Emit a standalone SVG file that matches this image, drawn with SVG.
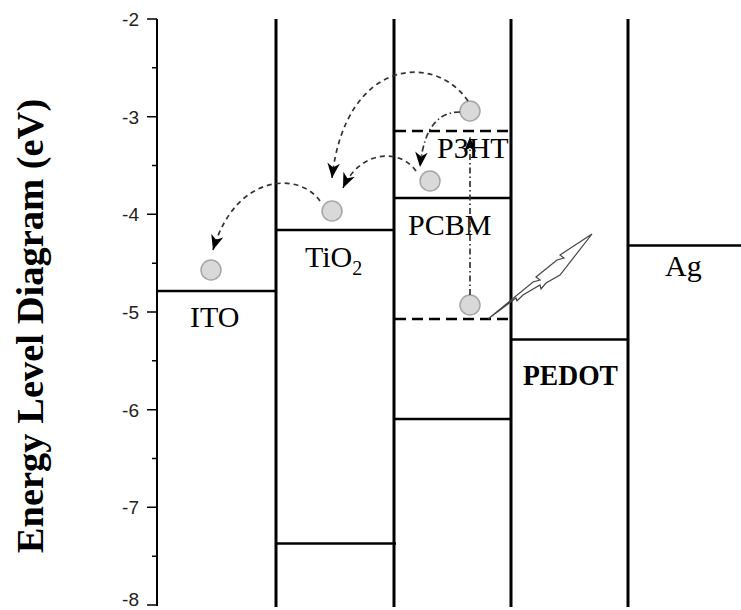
<svg xmlns="http://www.w3.org/2000/svg" width="741" height="610" viewBox="0 0 741 610">
<defs>
<style>
.wall{stroke:#000;stroke-width:3;fill:none}
.lvl{stroke:#000;stroke-width:2.5;fill:none}
.dlvl{stroke:#000;stroke-width:2.5;fill:none;stroke-dasharray:11 6}
.ax{stroke:#000;stroke-width:2;fill:none}
.tk{stroke:#000;stroke-width:1.5;fill:none}
.tl{font-family:"Liberation Sans",Arial,sans-serif;font-size:19px;fill:#222;text-anchor:end}
.lb{font-family:"Liberation Serif","Times New Roman",serif;font-size:30px;fill:#000}
.dash{stroke:#333;stroke-width:1.7;fill:none;stroke-dasharray:5 4}
.dd{stroke:#333;stroke-width:1.7;fill:none;stroke-dasharray:6 3 1.5 3}
.e{fill:#d9d9d9;stroke:#a6a6a6;stroke-width:1.5}
</style>
<marker id="ah" viewBox="0 0 12 10" refX="12" refY="5" markerWidth="15" markerHeight="12.5" markerUnits="userSpaceOnUse" orient="auto">
<path d="M0,0 L12,5 L0,10 L3.5,5 Z" fill="#000"/>
</marker>
</defs>
<rect width="741" height="610" fill="#fff"/>
<g id="axis">
<line class="ax" x1="157" y1="19" x2="157" y2="606"/>
<path class="tk" d="M147,19H157M147,116.7H157M147,214.3H157M147,312H157M147,409.7H157M147,507.3H157M147,605H157M152,67.8H157M152,165.5H157M152,263.2H157M152,360.8H157M152,458.5H157M152,556.2H157"/>
<text class="tl" x="139" y="26">-2</text>
<text class="tl" x="139" y="123.7">-3</text>
<text class="tl" x="139" y="221.3">-4</text>
<text class="tl" x="139" y="319">-5</text>
<text class="tl" x="139" y="416.7">-6</text>
<text class="tl" x="139" y="514.3">-7</text>
<text class="tl" x="139" y="606">-8</text>
<text transform="translate(43,326) rotate(-90)" text-anchor="middle" font-family="'Liberation Serif','Times New Roman',serif" font-size="38.5" font-weight="bold" fill="#000">Energy Level Diagram (eV)</text>
</g>
<g id="walls">
<line class="wall" x1="276" y1="19" x2="276" y2="607"/>
<line class="wall" x1="394" y1="19" x2="394" y2="607"/>
<line class="wall" x1="511" y1="19" x2="511" y2="607"/>
<line class="wall" x1="628" y1="19" x2="628" y2="607"/>
</g>
<g id="ITO">
<line class="lvl" x1="157" y1="291" x2="276" y2="291"/>
<text class="lb" x="190" y="327">ITO</text>
<circle class="e" cx="211" cy="270" r="10"/>
</g>
<g id="TiO2">
<line class="lvl" x1="276" y1="230" x2="394" y2="230"/>
<line class="lvl" x1="276" y1="543.5" x2="396" y2="543.5"/>
<text class="lb" x="305" y="267">TiO<tspan font-size="20" dy="8">2</tspan></text>
<circle class="e" cx="332" cy="211" r="10"/>
</g>
<g id="PCBM">
<line class="lvl" x1="394" y1="198" x2="511" y2="198"/>
<line class="lvl" x1="394" y1="419" x2="511" y2="419"/>
<text class="lb" x="408" y="235">PCBM</text>
<circle class="e" cx="430" cy="181" r="10"/>
</g>
<g id="P3HT">
<line class="dlvl" x1="395" y1="131" x2="511" y2="131"/>
<line class="dlvl" x1="395" y1="319" x2="509" y2="319"/>
<text class="lb" x="437" y="158">P3HT</text>
<circle class="e" cx="470" cy="111" r="10"/>
<circle class="e" cx="470" cy="305" r="10"/>
</g>
<g id="PEDOT">
<line class="lvl" x1="511" y1="339.5" x2="628" y2="339.5"/>
<text class="lb" x="523" y="385" font-weight="bold" font-size="28" textLength="95" lengthAdjust="spacingAndGlyphs">PEDOT</text>
</g>
<g id="Ag">
<line class="lvl" x1="628" y1="245.5" x2="741" y2="245.5"/>
<text class="lb" x="665" y="276">Ag</text>
</g>
<g id="light">
<path d="M488,319 L533,282 L540,280 L536,277 L557,260 L564,258 L560,255 L592,234 L560,275 L546,283 L541,289 L540,285 L523,295 L517,301 L516,298 Z" fill="none" stroke="#444" stroke-width="1.2" stroke-linejoin="miter"/>
</g>
<g id="connectors">
<path class="dash" d="M468,101 C435,52 345,58 332,178" marker-end="url(#ah)"/>
<path class="dd" d="M460,112 C440,112 424,125 420,167" marker-end="url(#ah)"/>
<path class="dash" d="M416,171 C400,148 360,150 343,188" marker-end="url(#ah)"/>
<path class="dash" d="M320,201 C300,172 236,172 213,250" marker-end="url(#ah)"/>
<path class="dd" d="M470,295 L470,137" marker-end="url(#ah)"/>
</g>
</svg>
